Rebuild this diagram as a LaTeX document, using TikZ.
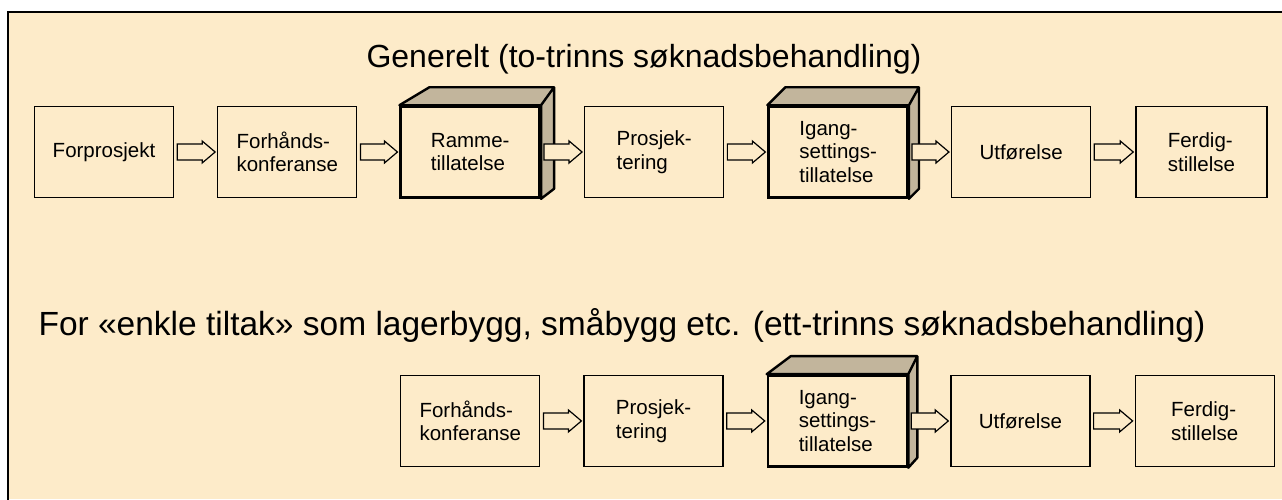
\documentclass[tikz,border=0pt]{standalone}
\usepackage{fontspec}
\setmainfont{Liberation Sans}
\usepackage{tikz}
\usetikzlibrary{positioning,calc}
\definecolor{paper}{HTML}{FDEBC9}
\definecolor{sideface}{HTML}{C2B59C}
\tikzstyle{frame}=[line width=2pt,line cap=rect]
\tikzstyle{heading}=[anchor=base,inner sep=0pt]
\tikzstyle{stage}=[draw,line width=1.3pt,fill=paper,minimum width=139pt,minimum height=91pt,
                 inner sep=0pt,align=left,font=\fontsize{20.5}{23.5}\selectfont]
\tikzstyle{permit}=[stage,line width=2.6pt]
\tikzstyle{side}=[draw,line width=2.4pt,fill=sideface,line join=round]
\tikzstyle{flow}=[draw,line width=1.2pt,fill=paper,line join=miter]

\begin{document}
\begin{tikzpicture}[x=1pt,y=1pt,node distance=43pt]
\useasboundingbox (0,0) rectangle (1282,-499);
\fill[white] (0,0) rectangle (1282,-499);
\fill[paper] (8,-12) rectangle (1282,-499);
\draw[frame] (8,-499) -- (8,-12) -- (1282,-12);

\node[heading,font=\fontsize{32}{38}\selectfont] (tit1) at (644,-67)
  {Generelt (to-trinns søknadsbehandling)};
\node[heading,font=\fontsize{33.5}{40}\selectfont] (tit2) at (622,-335)
  {For «enkle tiltak» som lagerbygg, småbygg etc. (ett-trinns søknadsbehandling)};

\node[stage] (forp) at (104,-152) {Forprosjekt};
\node[stage,right=of forp] (forh) {Forhånds-\\konferanse};
\node[permit,right=42pt of forh] (ramme) {Ramme-\\tillatelse};
\node[stage,right=of ramme] (pros) {Prosjek-\\tering};
\node[permit,right=of pros] (igang) {Igang-\\settings-\\tillatelse};
\node[stage,right=42pt of igang] (utf) {Utførelse};
\node[stage,right=44pt of utf,minimum width=131pt] (ferdig) {Ferdig-\\stillelse};

\node[stage,below=176pt of ramme] (forhb) {Forhånds-\\konferanse};
\node[stage,right=of forhb] (prosb) {Prosjek-\\tering};
\node[permit,right=of prosb] (igangb) {Igang-\\settings-\\tillatelse};
\node[stage,right=42pt of igangb] (utfb) {Utførelse};
\node[stage,right=44pt of utfb] (ferdigb) {Ferdig-\\stillelse};

\foreach \n/\l/\r in {ramme/30/13,igang/18/10,igangb/24/9}
  \draw[side] (\n.north west) -- ++(\l pt,18pt) -- ($(\n.north east)+(\r pt,18pt)$)
    -- ($(\n.south east)+(\r pt,10pt)$) -- (\n.south east) -- (\n.north east) -- cycle
    (\n.north east) -- ++(\r pt,18pt);

\foreach \a/\b in {forp/forh,forh/ramme,ramme/pros,pros/igang,igang/utf,utf/ferdig,
                   forhb/prosb,prosb/igangb,igangb/utfb,utfb/ferdigb}
  \draw[flow] let \p1=(\a.east), \p2=(\b.west) in
    (\x1+3pt,\y1+8pt) -- (\x2-15pt,\y1+8pt) -- (\x2-15pt,\y1+11pt) -- (\x2-2pt,\y1)
    -- (\x2-15pt,\y1-11pt) -- (\x2-15pt,\y1-8pt) -- (\x1+3pt,\y1-8pt) -- cycle;
\end{tikzpicture}
\end{document}
